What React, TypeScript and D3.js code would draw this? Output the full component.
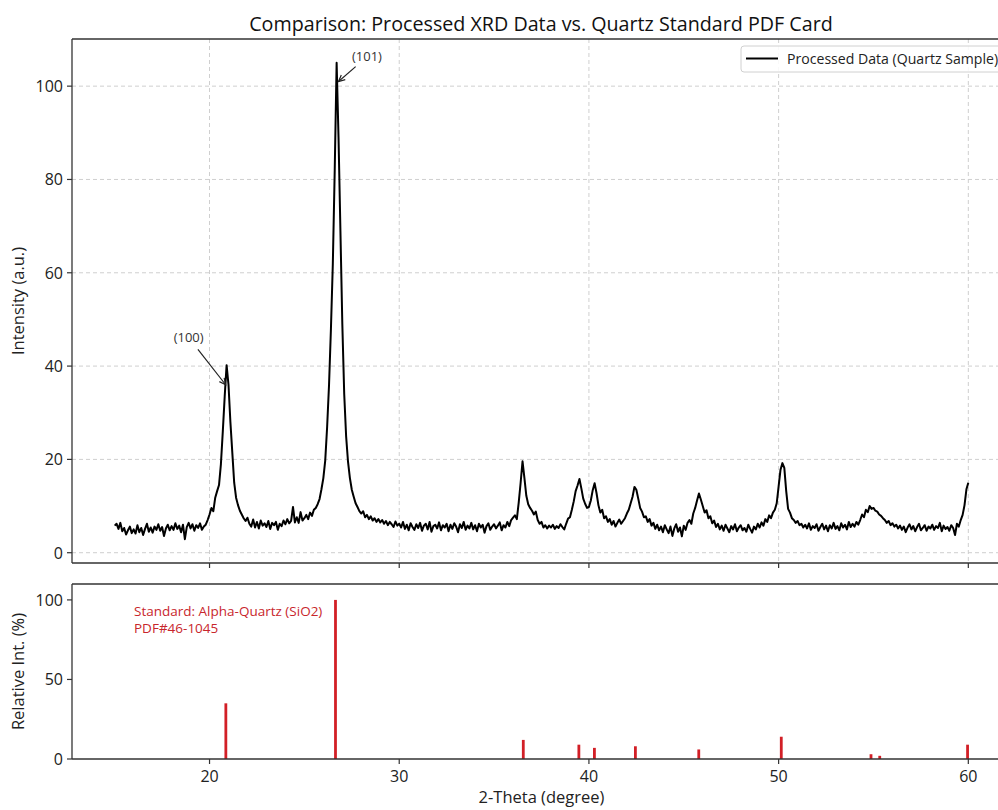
import React from "react";
import * as d3 from "d3";

const TITLE = "Comparison: Processed XRD Data vs. Quartz Standard PDF Card";
const LEGEND_LABEL = "Processed Data (Quartz Sample)";
const STD_LABEL_1 = "Standard: Alpha-Quartz (SiO2)";
const STD_LABEL_2 = "PDF#46-1045";

// measured pattern: 2-theta from 15.0 to 60.0 in 0.1 degree steps
const thetaStart = 15;
const thetaStep = 0.1;
const intensity: number[] = [
  5.8, 6.2, 5.1, 6.4, 4.6, 5.3, 3.9, 4.8, 5.6, 4.2,
  5.0, 4.1, 5.9, 4.4, 5.3, 3.8, 5.1, 6.2, 4.5, 5.4,
  4.3, 5.6, 4.9, 6.1, 4.7, 5.5, 3.6, 5.2, 6.0, 4.8,
  5.7, 4.9, 6.3, 5.1, 5.8, 4.4, 6.0, 2.9, 5.5, 6.4,
  5.2, 6.1, 4.7, 5.9, 5.3, 6.3, 4.9, 5.6, 6.0, 7.0,
  8.2, 9.6, 8.9, 11.8, 13.2, 14.5, 19.0, 26.0, 33.5, 40.2,
  36.0, 28.0, 21.5, 15.0, 11.8, 10.2, 9.0, 8.2, 7.4, 6.8,
  7.5, 6.2, 5.6, 7.1, 5.4, 6.6, 5.2, 6.9, 5.8, 6.3,
  5.5, 6.8, 5.1, 6.4, 5.9, 6.6, 4.9, 6.2, 5.7, 6.9,
  6.1, 7.2, 6.3, 6.8, 9.8, 6.5, 7.6, 6.4, 8.7, 6.9,
  7.4, 8.1, 7.2, 8.6, 7.9, 9.2, 9.6, 10.4, 11.5, 13.6,
  16.0, 19.8, 27.0, 36.0, 48.0, 62.0, 82.0, 105.0, 89.0, 69.0,
  49.0, 34.0, 25.0, 19.5, 16.0, 13.5, 12.0, 10.6, 9.8, 8.9,
  8.4, 8.9, 7.6, 8.1, 7.2, 7.8, 6.9, 7.4, 6.6, 7.2,
  6.5, 7.0, 6.2, 6.8, 5.9, 6.6, 6.1, 5.5, 6.7, 5.8,
  6.2, 5.4, 6.6, 5.1, 6.0, 4.8, 6.3, 5.5, 4.9, 6.1,
  5.3, 6.4, 4.7, 5.8, 6.2, 5.0, 6.6, 4.5, 5.7, 6.0,
  5.2, 6.5, 4.8, 5.9, 5.4, 6.2, 4.6, 6.0, 5.1, 6.3,
  5.6, 4.4, 6.1, 5.3, 6.6, 4.9, 5.8, 5.2, 6.4, 5.0,
  5.9, 4.6, 6.2, 5.4, 6.0, 4.3, 5.7, 6.3, 4.9, 5.6,
  6.1, 5.2, 5.8, 6.5, 4.8, 5.9, 5.4, 6.6, 5.7, 7.0,
  7.5, 8.0, 7.2, 10.8, 15.0, 19.6, 16.0, 12.2, 10.4, 9.6,
  9.0, 8.2, 8.8, 7.0, 6.2, 6.6, 5.4, 5.9, 5.2, 5.8,
  5.4, 6.0, 5.1, 5.7, 5.3, 6.1, 5.5, 5.0, 6.2, 7.3,
  7.6, 9.2, 11.0, 13.2, 14.4, 15.8, 13.8, 11.6, 10.5, 9.6,
  9.8, 11.2, 13.4, 14.9, 12.8, 10.2, 8.6, 9.2, 7.4, 7.8,
  6.6, 7.2, 6.0, 6.8, 5.6, 6.4, 7.1, 6.2, 6.8, 7.4,
  8.4, 9.2, 10.6, 12.0, 14.1, 13.5, 11.6, 9.6, 8.8, 7.6,
  7.8, 6.6, 7.2, 5.8, 6.4, 5.1, 6.0, 4.8, 5.6, 4.4,
  5.9, 5.0, 4.2, 5.6, 3.6, 5.2, 6.1, 4.5, 5.4, 3.5,
  5.8, 4.9, 6.4, 7.0, 6.2, 8.4, 9.6, 11.2, 12.7, 11.4,
  10.0, 8.6, 9.1, 7.4, 7.8, 6.3, 6.9, 5.5, 6.2, 5.0,
  5.8, 4.7, 6.0, 5.2, 4.4, 5.7, 5.0, 6.1, 4.6, 5.4,
  5.9, 4.8, 5.3, 4.5, 6.0, 5.1, 4.3, 5.6, 5.0, 6.2,
  5.4, 6.5, 5.8, 7.2, 6.6, 8.0, 7.4, 8.6, 9.2, 10.6,
  14.2, 17.8, 19.2, 18.2, 13.2, 9.4, 8.6, 7.4, 7.0, 6.4,
  6.8, 5.9, 6.2, 5.4, 6.0, 5.2, 6.3, 4.9, 5.7, 5.3,
  6.1, 4.7, 5.5, 6.2, 5.0, 5.8, 4.6, 5.9, 5.2, 6.4,
  5.1, 5.7, 4.8, 6.3, 5.4, 6.0, 5.0, 6.6, 5.5, 6.2,
  5.6, 6.6, 6.0, 7.0, 8.2, 7.6, 9.2, 8.7, 10.0, 9.4,
  9.6, 9.0, 8.8, 8.2, 7.9, 7.4, 7.0, 6.4, 6.8, 5.9,
  6.3, 5.6, 6.0, 5.2, 5.8, 4.9, 5.6, 4.4, 5.4, 6.1,
  5.0, 5.7, 4.6, 5.5, 6.2, 4.8, 5.3, 5.9, 4.7, 5.6,
  5.2, 6.0, 4.9, 5.7, 5.3, 6.4, 4.6, 5.8, 5.1, 5.5,
  4.7, 5.9, 5.3, 3.8, 6.2, 5.6, 7.0, 8.1, 10.2, 13.6,
  15.0,
];

// standard PDF card sticks
const stickTheta = [20.86, 26.64, 36.54, 39.47, 40.29, 42.45, 45.79, 50.14, 54.87, 55.33, 59.96];
const stickIntensity = [35, 100, 12, 9, 7, 8, 6, 14, 3, 2, 9];

const xTicks = [20, 30, 40, 50, 60];
const topYTicks = [0, 20, 40, 60, 80, 100];
const bottomYTicks = [0, 50, 100];

const annoLabels = ["(100)", "(101)"];
const annoTipTheta = [20.85, 26.8];
const annoTipInt = [36, 101];
const annoTextTheta = [18.9, 28.3];
const annoTextInt = [46.1, 106.3];

const FONT = "'Open Sans', 'DejaVu Sans', sans-serif";

export default function App() {
  const W = 998;
  const H = 810;
  const left = 72;
  const right = 1011;
  const topA = 39;
  const botA = 563;
  const topB = 584;
  const botB = 759;

  const data = intensity.map((v, i) => ({ t: thetaStart + i * thetaStep, v }));

  const x = d3.scaleLinear().domain([12.75, 62.25]).range([left, right]);
  const [mn, mx] = d3.extent(intensity) as [number, number];
  const pad = (mx - mn) * 0.05;
  const yA = d3.scaleLinear().domain([mn - pad, mx + pad]).range([botA, topA]);
  const yB = d3.scaleLinear().domain([0, 110]).range([botB, topB]);

  const line = d3
    .line<{ t: number; v: number }>()
    .x((d) => x(d.t))
    .y((d) => yA(d.v));

  const gridColor = "#cfcfcf";
  const spine = "#333";
  const red = "#d21f26";

  const arrows = annoLabels.map((lab, i) => {
    const tx = x(annoTextTheta[i]);
    const ty = yA(annoTextInt[i]);
    const px = x(annoTipTheta[i]);
    const py = yA(annoTipInt[i]);
    const dx = px - tx;
    const dy = py - ty;
    const len = Math.sqrt(dx * dx + dy * dy);
    const ux = dx / len;
    const uy = dy / len;
    const sx = tx + ux * 15;
    const sy = ty + uy * 15;
    const hl = 7;
    const ang = Math.PI / 7;
    const bx = -ux;
    const by = -uy;
    const h1x = px + hl * (bx * Math.cos(ang) - by * Math.sin(ang));
    const h1y = py + hl * (bx * Math.sin(ang) + by * Math.cos(ang));
    const h2x = px + hl * (bx * Math.cos(-ang) - by * Math.sin(-ang));
    const h2y = py + hl * (bx * Math.sin(-ang) + by * Math.cos(-ang));
    return { lab, tx, ty, px, py, sx, sy, h1x, h1y, h2x, h2y };
  });

  return (
    <svg
      width={W}
      height={H}
      style={{ position: "absolute", left: 0, top: 0, background: "#fff" }}
      fontFamily={FONT}
    >
      <rect x={0} y={0} width={W} height={H} fill="#fff" />
      <text x={541} y={31} textAnchor="middle" fontSize={19.7} fill="#111">
        {TITLE}
      </text>

      {/* top panel grid */}
      {xTicks.map((t) => (
        <line key={"gx" + t} x1={x(t)} x2={x(t)} y1={topA} y2={botA} stroke={gridColor} strokeDasharray="4,3" strokeWidth={1} />
      ))}
      {topYTicks.map((t) => (
        <line key={"gy" + t} x1={left} x2={right} y1={yA(t)} y2={yA(t)} stroke={gridColor} strokeDasharray="4,3" strokeWidth={1} />
      ))}

      {/* data line */}
      <path d={line(data) || ""} fill="none" stroke="#000" strokeWidth={2} strokeLinejoin="round" />

      {/* annotations */}
      {arrows.map((a) => (
        <g key={a.lab}>
          <text x={a.tx} y={a.ty + 4.5} textAnchor="middle" fontSize={13} fill="#333">
            {a.lab}
          </text>
          <line x1={a.sx} y1={a.sy} x2={a.px} y2={a.py} stroke="#222" strokeWidth={1.2} />
          <polyline points={`${a.h1x},${a.h1y} ${a.px},${a.py} ${a.h2x},${a.h2y}`} fill="none" stroke="#222" strokeWidth={1.2} />
        </g>
      ))}

      {/* top panel spines */}
      <line x1={left} x2={right} y1={topA} y2={topA} stroke={spine} strokeWidth={1.3} />
      <line x1={left} x2={right} y1={botA} y2={botA} stroke={spine} strokeWidth={1.3} />
      <line x1={left} x2={left} y1={topA} y2={botA} stroke={spine} strokeWidth={1.3} />
      <line x1={right} x2={right} y1={topA} y2={botA} stroke={spine} strokeWidth={1.3} />

      {topYTicks.map((t) => (
        <g key={"ty" + t}>
          <line x1={left - 5} x2={left} y1={yA(t)} y2={yA(t)} stroke={spine} strokeWidth={1.2} />
          <text x={left - 9} y={yA(t) + 5.8} textAnchor="end" fontSize={16} fill="#222">
            {t}
          </text>
        </g>
      ))}
      {xTicks.map((t) => (
        <line key={"tx" + t} x1={x(t)} x2={x(t)} y1={botA} y2={botA + 5} stroke={spine} strokeWidth={1.2} />
      ))}

      <text transform={`translate(24,${(topA + botA) / 2}) rotate(-90)`} textAnchor="middle" fontSize={16.5} fill="#222">
        Intensity (a.u.)
      </text>

      {/* legend */}
      <rect x={741} y={46} width={263} height={26} rx={3} fill="#fff" fillOpacity={0.85} stroke="#d0d0d0" />
      <line x1={746} x2={778} y1={58.5} y2={58.5} stroke="#000" strokeWidth={2} />
      <text x={787} y={63.5} fontSize={14.1} fill="#222">
        {LEGEND_LABEL}
      </text>

      {/* bottom panel */}
      {stickTheta.map((t, i) => (
        <line key={"s" + i} x1={x(t)} x2={x(t)} y1={yB(0)} y2={yB(stickIntensity[i])} stroke={red} strokeWidth={2.8} />
      ))}
      <text x={134} y={616} fontSize={13.5} fill="#c8262c">
        {STD_LABEL_1}
      </text>
      <text x={134} y={633} fontSize={13.5} fill="#c8262c">
        {STD_LABEL_2}
      </text>

      <line x1={left} x2={right} y1={topB} y2={topB} stroke={spine} strokeWidth={1.3} />
      <line x1={left} x2={right} y1={botB} y2={botB} stroke={spine} strokeWidth={1.3} />
      <line x1={left} x2={left} y1={topB} y2={botB} stroke={spine} strokeWidth={1.3} />
      <line x1={right} x2={right} y1={topB} y2={botB} stroke={spine} strokeWidth={1.3} />

      {bottomYTicks.map((t) => (
        <g key={"by" + t}>
          <line x1={left - 5} x2={left} y1={yB(t)} y2={yB(t)} stroke={spine} strokeWidth={1.2} />
          <text x={left - 9} y={yB(t) + 5.8} textAnchor="end" fontSize={16} fill="#222">
            {t}
          </text>
        </g>
      ))}
      {xTicks.map((t) => (
        <g key={"bx" + t}>
          <line x1={x(t)} x2={x(t)} y1={botB} y2={botB + 5} stroke={spine} strokeWidth={1.2} />
          <text x={x(t)} y={botB + 23} textAnchor="middle" fontSize={16} fill="#222">
            {t}
          </text>
        </g>
      ))}

      <text transform={`translate(24,${(topB + botB) / 2}) rotate(-90)`} textAnchor="middle" fontSize={16.5} fill="#222">
        Relative Int. (%)
      </text>
      <text x={(left + right) / 2} y={803} textAnchor="middle" fontSize={16.5} fill="#222">
        2-Theta (degree)
      </text>
    </svg>
  );
}
